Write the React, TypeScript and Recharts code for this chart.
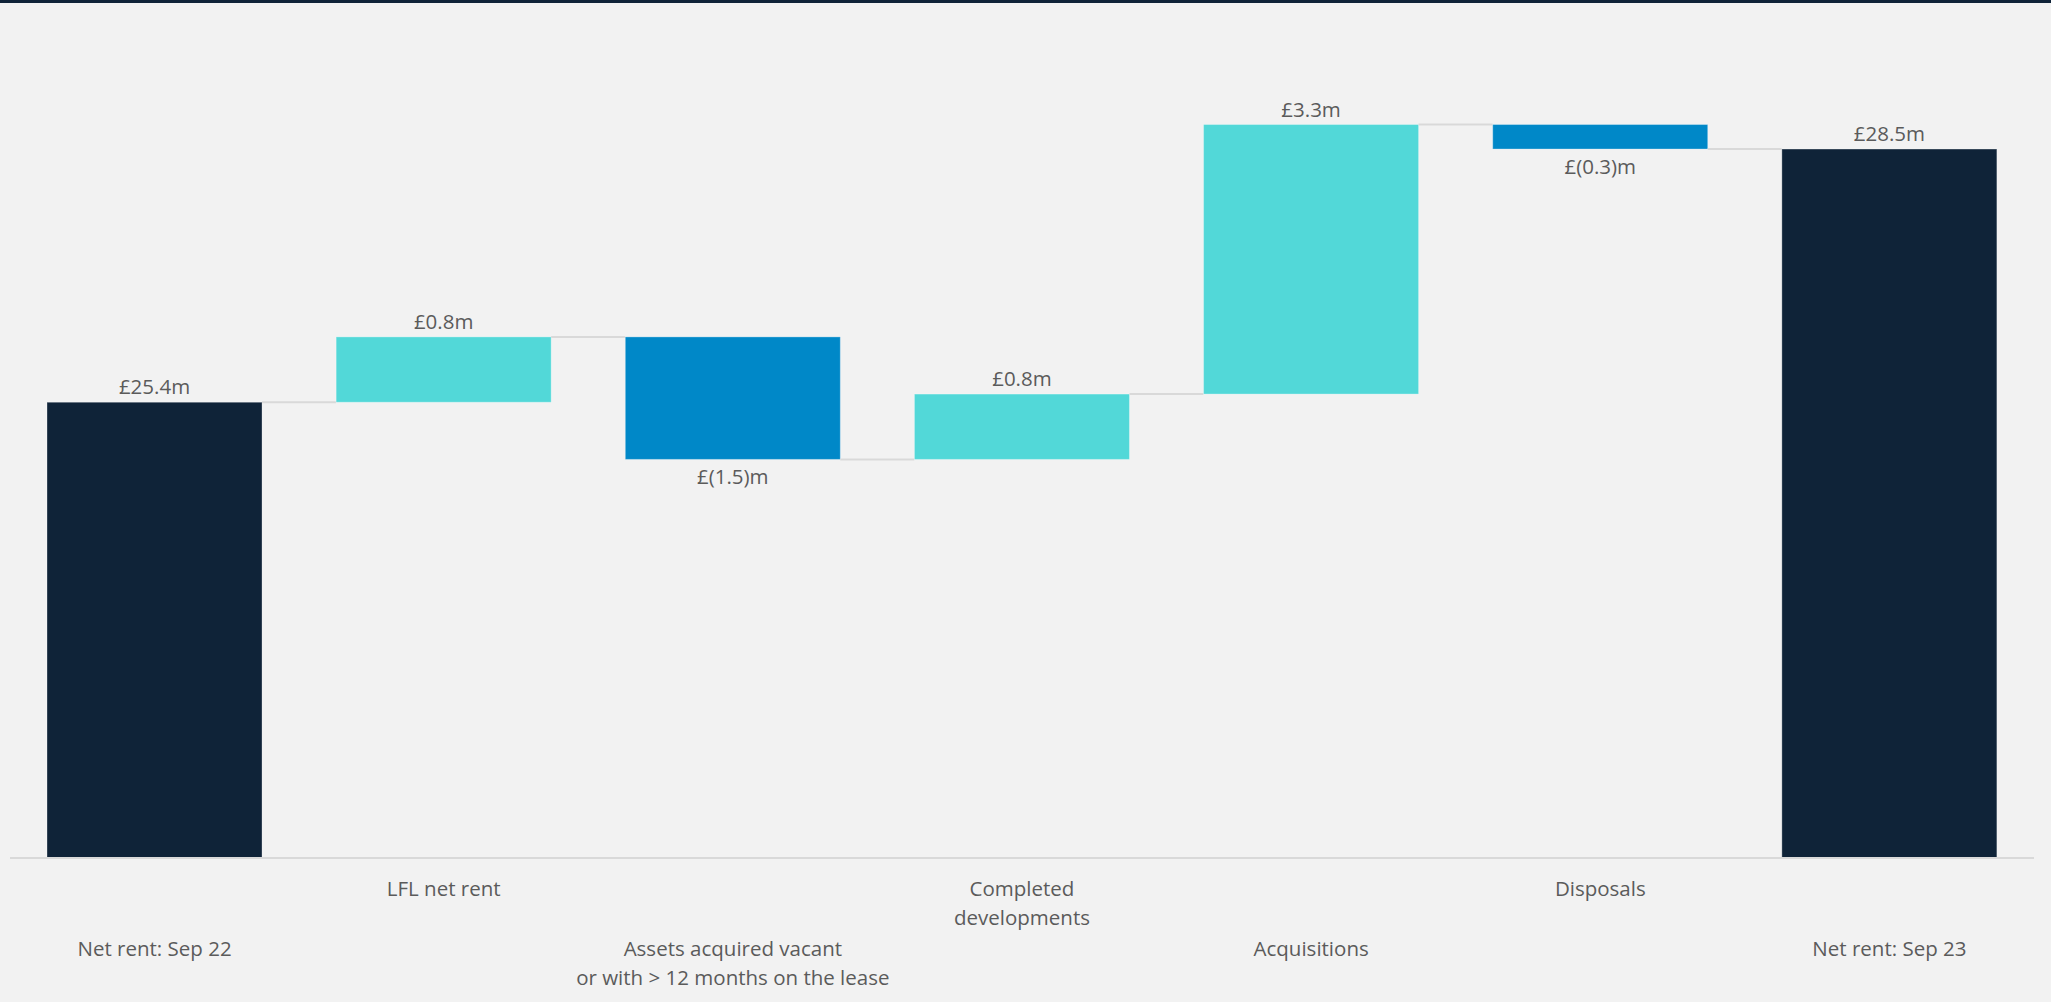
import React from "react";
import { BarChart, Bar, XAxis, YAxis, LabelList } from "recharts";

const categories = [
  "Net rent: Sep 22",
  "LFL net rent",
  "Assets acquired vacant\nor with > 12 months on the lease",
  "Completed\ndevelopments",
  "Acquisitions",
  "Disposals",
  "Net rent: Sep 23",
];
const values = [25.4, 0.8, -1.5, 0.8, 3.3, -0.3, 28.5];
const isTotal = [true, false, false, false, false, false, true];

// axis floor – the chart is cropped, not zero based
const Y_MIN = 19.82;
const Y_MAX = 29.59;

const TOTAL_COLOR = "#0f2338";
const UP_COLOR = "#52d8d8";
const DOWN_COLOR = "#0088c8";
const TEXT_COLOR = "#5b5b5b";
const LINE_COLOR = "#d9d9d9";
const FONT = "'Open Sans', 'Noto Sans', sans-serif";
const GAP = 0.128;

type Row = {
  name: string;
  range: [number, number];
  end: number;
  value: number;
  total: boolean;
};

let running = 0;
const rows: Row[] = categories.map((name, i) => {
  const v = values[i];
  if (isTotal[i]) {
    running = v;
    return { name, range: [Y_MIN, v], end: v, value: v, total: true };
  }
  const start = running;
  running = +(running + v).toFixed(2);
  return {
    name,
    range: [Math.min(start, running), Math.max(start, running)],
    end: running,
    value: v,
    total: false,
  };
});

function fmt(r: Row) {
  if (r.value < 0) return `£(${Math.abs(r.value).toFixed(1)})m`;
  return `£${r.value.toFixed(1)}m`;
}

function WaterfallShape(props: any) {
  const { x, y, width, height, payload, index } = props;
  const r = payload as Row;
  const fill = r.total ? TOTAL_COLOR : r.value >= 0 ? UP_COLOR : DOWN_COLOR;
  const endY = r.end === r.range[1] ? y : y + height;
  const gap = (width * 2 * GAP) / (1 - 2 * GAP);
  const last = index === rows.length - 1;
  return (
    <g>
      <rect
        x={x}
        y={y}
        width={width}
        height={height}
        fill={fill}
        stroke="rgba(255,255,255,0.3)"
        strokeWidth={1}
      />
      {!last && (
        <line
          x1={x + width}
          x2={x + width + gap}
          y1={endY}
          y2={endY}
          stroke={LINE_COLOR}
          strokeWidth={2}
        />
      )}
    </g>
  );
}

function ValueLabel(props: any) {
  const { x, y, width, height, index } = props;
  const r = rows[index];
  const below = !r.total && r.value < 0;
  return (
    <text
      x={x + width / 2}
      y={below ? y + height + 25 : y - 8}
      textAnchor="middle"
      fill={TEXT_COLOR}
      fontSize={20.5}
      fontFamily={FONT}
    >
      {fmt(r)}
    </text>
  );
}

function CategoryTick(props: any) {
  const { x, y, payload, index } = props;
  const lines = String(payload.value).split("\n");
  const offset = index % 2 === 1 ? 38 : 98;
  return (
    <text
      x={x}
      y={y + offset}
      textAnchor="middle"
      fill={TEXT_COLOR}
      fontSize={20.5}
      fontFamily={FONT}
    >
      {lines.map((l, i) => (
        <tspan key={i} x={x} dy={i === 0 ? 0 : 28.5}>
          {l}
        </tspan>
      ))}
    </text>
  );
}

export default function App() {
  return (
    <div
      style={{
        position: "absolute",
        left: 0,
        top: 0,
        width: 2051,
        height: 1002,
        background: "#f2f2f2",
        overflow: "hidden",
      }}
    >
      <div
        style={{
          position: "absolute",
          left: 0,
          top: 0,
          width: 2051,
          height: 3,
          background: TOTAL_COLOR,
        }}
      />
      <BarChart
        width={2051}
        height={1002}
        data={rows}
        margin={{ top: 60, right: 17, bottom: 4, left: 10 }}
        barCategoryGap={`${GAP * 100}%`}
      >
        <XAxis
          dataKey="name"
          interval={0}
          height={140}
          tickLine={false}
          tickSize={0}
          tickMargin={0}
          axisLine={{ stroke: LINE_COLOR, strokeWidth: 2 }}
          tick={<CategoryTick />}
        />
        <YAxis hide domain={[Y_MIN, Y_MAX]} allowDataOverflow />
        <Bar dataKey="range" shape={<WaterfallShape />} isAnimationActive={false}>
          <LabelList dataKey="range" content={<ValueLabel />} />
        </Bar>
      </BarChart>
    </div>
  );
}
